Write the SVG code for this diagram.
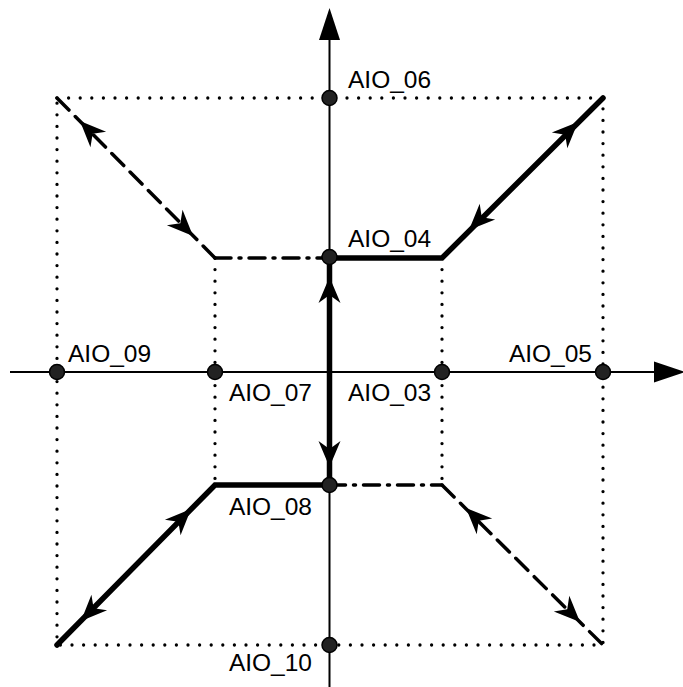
<svg xmlns="http://www.w3.org/2000/svg" xmlns:xlink="http://www.w3.org/1999/xlink" width="683" height="687" viewBox="0 0 683 687">
<style>
.axis{stroke:#000;stroke-width:2;fill:none}
.dot{stroke:#000;stroke-width:3.3;stroke-dasharray:0 11.6;stroke-linecap:round;fill:none}
.thick{stroke:#000;stroke-width:5.5;fill:none;stroke-linecap:round;stroke-linejoin:miter}
.dash{stroke:#000;stroke-width:3.5;stroke-dasharray:17 9;fill:none;stroke-linecap:round}
.dashdot{stroke:#000;stroke-width:3.5;stroke-dasharray:16 8 2 8;fill:none;stroke-linecap:round}
.node{fill:#222;stroke:#000;stroke-width:1.5}
text{font-family:"Liberation Sans",Arial,sans-serif;font-size:24.5px;fill:#000}
.end{text-anchor:end}
</style>
<defs>
<path id="ah" d="M0,0 L-26,-11 L-18,0 L-26,11 Z" fill="#000"/>
</defs>
<rect width="683" height="687" fill="#fff"/>
<g id="connectors">
<rect class="dot" x="57" y="98" width="546" height="547"/>
<line class="dot" x1="215" y1="258" x2="215" y2="485"/>
<line class="dot" x1="442" y1="258" x2="442" y2="485"/>
<line class="axis" x1="329.5" y1="30" x2="329.5" y2="687"/>
<line class="axis" x1="10" y1="372" x2="670" y2="372"/>
<polygon points="329.5,8 319,40 340,40" fill="#000"/>
<polygon points="685,372 654,361.5 654,382.5" fill="#000"/>
<line class="dash" x1="57" y1="98" x2="215" y2="258"/>
<line class="dash" x1="442" y1="485" x2="603" y2="645"/>
<line class="dashdot" x1="215" y1="258" x2="329.5" y2="258"/>
<line class="dashdot" x1="329.5" y1="485" x2="442" y2="485"/>
<polyline class="thick" points="603,98 442,258 329.5,258 329.5,485 215,485 57,645"/>
<use xlink:href="#ah" transform="translate(578,122) rotate(-44.8)"/>
<use xlink:href="#ah" transform="translate(469,230) rotate(135.2)"/>
<use xlink:href="#ah" transform="translate(329.5,277) rotate(-90)"/>
<use xlink:href="#ah" transform="translate(329.5,467) rotate(90)"/>
<use xlink:href="#ah" transform="translate(191,509) rotate(-45.4)"/>
<use xlink:href="#ah" transform="translate(81,621) rotate(134.6)"/>
<use xlink:href="#ah" transform="translate(80,121) rotate(-134.7)"/>
<use xlink:href="#ah" transform="translate(193,236) rotate(45.3)"/>
<use xlink:href="#ah" transform="translate(466,508) rotate(-135.2)"/>
<use xlink:href="#ah" transform="translate(580,622) rotate(44.8)"/>
</g>
<g id="AIO_06"><circle class="node" cx="329.5" cy="98" r="7.5"/><text x="348" y="88">AIO_06</text></g>
<g id="AIO_04"><circle class="node" cx="329.5" cy="257" r="7.5"/><text x="348" y="247">AIO_04</text></g>
<g id="AIO_09"><circle class="node" cx="57" cy="372" r="7.5"/><text x="68" y="362">AIO_09</text></g>
<g id="AIO_07"><circle class="node" cx="215" cy="372" r="7.5"/><text class="end" x="312" y="401">AIO_07</text></g>
<g id="AIO_03"><circle class="node" cx="442" cy="372" r="7.5"/><text x="348" y="401">AIO_03</text></g>
<g id="AIO_05"><circle class="node" cx="603" cy="372" r="7.5"/><text class="end" x="592" y="362">AIO_05</text></g>
<g id="AIO_08"><circle class="node" cx="329.5" cy="485" r="7.5"/><text class="end" x="312" y="515">AIO_08</text></g>
<g id="AIO_10"><circle class="node" cx="329.5" cy="645" r="7.5"/><text class="end" x="312" y="671">AIO_10</text></g>
</svg>
